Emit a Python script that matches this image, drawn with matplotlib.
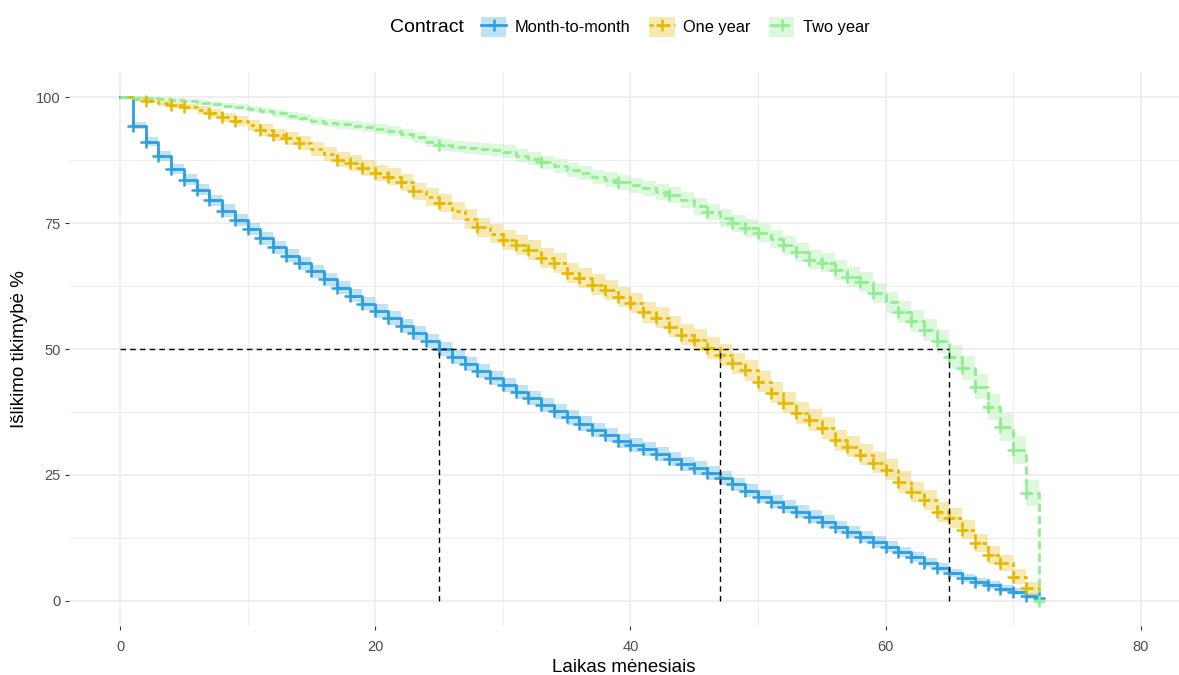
import matplotlib
matplotlib.use("Agg")
import matplotlib.pyplot as plt
from matplotlib.lines import Line2D
from matplotlib.patches import Patch
from matplotlib.legend_handler import HandlerTuple
import numpy as np

# ── colours ────────────────────────────────────────────────────────────────
C_MTM = "#2E9FDF"   # blue   — Month-to-month
C_ONE = "#E7B800"   # yellow — One year
C_TWO = "#90EE90"   # green  — Two year
C_GRID = "#EBEBEB"
C_TICK = "#4D4D4D"

plt.rcParams["font.family"] = ["Liberation Sans", "DejaVu Sans"]

# ── data (survival %, one value per month 0..72) ───────────────────────────
months = list(range(73))

mtm_surv = [100.0, 94.3, 91.2, 88.3, 85.8, 83.6, 81.6, 79.5, 77.5, 75.6,
            73.8, 72.0, 70.2, 68.5, 67.0, 65.4, 63.8, 62.2, 60.6, 59.0,
            57.6, 56.1, 54.6, 53.1, 51.6, 50.0, 48.5, 47.0, 45.6, 44.2,
            42.9, 41.5, 40.2, 38.9, 37.6, 36.4, 35.2, 34.0, 32.9, 31.8,
            31.0, 30.1, 29.2, 28.2, 27.2, 26.3, 25.4, 24.4, 23.1, 21.9,
            20.7, 19.7, 18.7, 17.7, 16.7, 15.7, 14.7, 13.7, 12.7, 11.7,
            10.7, 9.7, 8.7, 7.6, 6.6, 5.5, 4.6, 3.8, 3.1, 2.4,
            1.8, 1.0, 0.6]

one_surv = [100.0, 99.6, 99.3, 98.8, 98.4, 98.1, 97.4, 96.8, 96.0, 95.3,
            94.4, 93.4, 92.5, 91.8, 90.9, 89.8, 88.7, 87.6, 86.9, 85.9,
            85.0, 84.2, 83.1, 81.3, 80.2, 79.0, 77.4, 75.8, 74.2, 72.9,
            71.6, 70.6, 69.6, 68.1, 67.1, 65.1, 64.1, 62.8, 61.7, 60.3,
            59.1, 57.3, 56.2, 54.4, 52.8, 51.8, 50.2, 48.8, 47.2, 45.8,
            43.5, 41.3, 39.3, 37.3, 35.9, 34.3, 31.9, 30.6, 29.0, 27.4,
            26.0, 23.6, 21.6, 20.0, 17.7, 16.5, 14.1, 11.5, 9.1, 7.5,
            4.8, 2.5, 1.2]

two_surv = [100.0, 99.9, 99.8, 99.6, 99.4, 99.2, 98.9, 98.6, 98.3, 98.0,
            97.7, 97.3, 96.8, 96.3, 95.8, 95.3, 94.9, 94.6, 94.3, 94.0,
            93.7, 93.3, 92.7, 92.0, 91.2, 90.5, 90.2, 89.9, 89.7, 89.5,
            89.2, 88.4, 87.8, 87.1, 86.3, 85.6, 84.9, 84.2, 83.6, 83.1,
            82.5, 81.9, 81.2, 80.6, 79.5, 78.3, 77.2, 76.0, 75.0, 74.0,
            73.0, 71.8, 70.6, 69.2, 67.7, 67.1, 65.7, 64.3, 63.3, 61.1,
            59.3, 57.3, 55.5, 53.8, 51.5, 48.4, 46.2, 42.5, 38.5, 34.5,
            30.0, 21.4, 0.0]

# half width of the 95% confidence band (percentage points)
mtm_ci = [0.0, 0.7, 0.85, 0.95, 1.0, 1.05, 1.1, 1.15, 1.2, 1.2,
          1.25, 1.3, 1.3, 1.3, 1.3, 1.3, 1.3, 1.3, 1.3, 1.3,
          1.35, 1.4, 1.4, 1.4, 1.4, 1.4, 1.4, 1.4, 1.4, 1.4,
          1.4, 1.4, 1.4, 1.4, 1.4, 1.4, 1.4, 1.4, 1.4, 1.4,
          1.4, 1.4, 1.4, 1.4, 1.4, 1.4, 1.35, 1.35, 1.35, 1.35,
          1.35, 1.3, 1.3, 1.3, 1.3, 1.25, 1.2, 1.2, 1.2, 1.15,
          1.1, 1.0, 1.0, 0.95, 0.9, 0.85, 0.8, 0.8, 0.75, 0.7,
          0.65, 0.6, 0.6]

one_ci = [0.0, 0.4, 0.45, 0.5, 0.55, 0.6, 0.75, 0.85, 0.9, 1.0,
          1.1, 1.2, 1.25, 1.3, 1.35, 1.4, 1.45, 1.5, 1.55, 1.6,
          1.6, 1.65, 1.7, 1.75, 1.8, 1.8, 1.85, 1.9, 1.9, 1.9,
          1.95, 1.95, 2.0, 2.0, 2.0, 2.0, 2.0, 2.0, 2.0, 2.05,
          2.05, 2.05, 2.05, 2.1, 2.1, 2.1, 2.1, 2.1, 2.1, 2.1,
          2.1, 2.1, 2.1, 2.1, 2.1, 2.1, 2.1, 2.1, 2.1, 2.1,
          2.1, 2.1, 2.05, 2.0, 2.0, 1.95, 1.9, 1.8, 1.7, 1.6,
          1.5, 1.3, 1.0]

two_ci = [0.0, 0.3, 0.3, 0.35, 0.4, 0.4, 0.45, 0.5, 0.5, 0.55,
          0.6, 0.65, 0.7, 0.75, 0.8, 0.85, 0.85, 0.9, 0.9, 0.95,
          0.95, 1.0, 1.0, 1.05, 1.1, 1.1, 1.15, 1.15, 1.2, 1.2,
          1.25, 1.25, 1.3, 1.3, 1.35, 1.35, 1.4, 1.4, 1.45, 1.45,
          1.5, 1.5, 1.55, 1.55, 1.6, 1.6, 1.65, 1.7, 1.7, 1.75,
          1.75, 1.8, 1.85, 1.85, 1.9, 1.9, 1.95, 2.0, 2.0, 2.05,
          2.1, 2.15, 2.2, 2.25, 2.3, 2.35, 2.4, 2.5, 2.6, 2.7,
          2.8, 2.6, 0.0]

# months with censored observations (the "+" marks)
mtm_cens = list(range(1, 73))
one_cens = [2, 4, 5, 7, 8, 9, 11, 12, 13, 14, 17, 18, 19, 20, 21, 22, 23,
            25, 28, 30, 31, 32, 33, 34, 35, 36] + list(range(37, 72))
two_cens = [25, 33, 39, 43, 46, 48, 49, 50, 52, 53, 54, 55, 56, 57, 58, 59,
            61, 62, 63, 64, 65, 66, 67, 68, 69, 70, 71, 72]

# median survival per contract
medians = [25, 47, 65]

labels = ["Month-to-month", "One year", "Two year"]


def build_figure():
    fig = plt.figure(figsize=(11.79, 6.75), dpi=100)
    W, H = 1179, 675
    ax = fig.add_axes([69 / W, 1 - 626 / H, (1179 - 69) / W, (626 - 72) / H])

    ax.set_xlim(-4, 83)
    ax.set_ylim(-5, 105)
    ax.set_xticks([0, 20, 40, 60, 80])
    ax.set_xticks([10, 30, 50, 70], minor=True)
    ax.set_yticks([0, 25, 50, 75, 100])
    ax.set_yticks([12.5, 37.5, 62.5, 87.5], minor=True)
    ax.grid(True, which="major", color=C_GRID, lw=1.1)
    ax.grid(True, which="minor", color=C_GRID, lw=0.6)
    ax.set_axisbelow(True)
    for s in ax.spines.values():
        s.set_visible(False)
    ax.tick_params(which="major", length=3, width=0.8, color="#333333",
                   labelcolor=C_TICK, labelsize=10.5)
    ax.tick_params(axis="x", which="major", pad=7)
    ax.tick_params(axis="y", which="major", pad=3)
    ax.tick_params(which="minor", length=0)

    ax.set_xlabel("Laikas mėnesiais", fontsize=13.5, labelpad=4)
    ax.set_ylabel("Išlikimo tikimybė %", fontsize=13.5, labelpad=6)
    return fig, ax


def main():
    fig, ax = build_figure()

    t = np.array(months)
    series = [
        (mtm_surv, mtm_ci, mtm_cens, C_MTM, "-"),
        (one_surv, one_ci, one_cens, C_ONE, (0, (1.5, 1.5))),
        (two_surv, two_ci, two_cens, C_TWO, (0, (3, 1.5))),
    ]

    handles = []
    for surv, ci, cens, col, ls in series:
        s = np.array(surv)
        c = np.array(ci)
        ax.fill_between(t, s - c, s + c, step="post", color=col,
                        alpha=0.3, lw=0)
        ax.step(t, s, where="post", color=col, lw=2.0, linestyle=ls,
                zorder=3)
        ax.plot(cens, s[cens], "+", color=col, ms=9, mew=1.8, zorder=4)
        handles.append((
            Patch(facecolor=col, alpha=0.3, lw=0),
            Line2D([], [], color=col, lw=2.0, linestyle=ls, marker="+",
                   ms=9, mew=1.8),
        ))

    # median lines
    ax.plot([0, max(medians)], [50, 50], color="black", lw=1.0,
            linestyle=(0, (4, 3)), zorder=5)
    for m in medians:
        ax.plot([m, m], [0, 50], color="black", lw=1.0,
                linestyle=(0, (4, 3)), zorder=5)

    # legend on top
    fig.text(390 / 1179, 1 - 27 / 675, "Contract", fontsize=14,
             ha="left", va="center")
    fig.legend(handles, labels, ncol=3, loc="center left",
               bbox_to_anchor=(481 / 1179, 1 - 27 / 675),
               frameon=False, fontsize=11.8, borderpad=0, borderaxespad=0,
               handlelength=1.55, handleheight=1.55, handletextpad=0.5,
               columnspacing=1.15,
               handler_map={tuple: HandlerTuple(ndivide=1, pad=0)})

    fig.savefig("out.png", dpi=100)


if __name__ == "__main__":
    main()
